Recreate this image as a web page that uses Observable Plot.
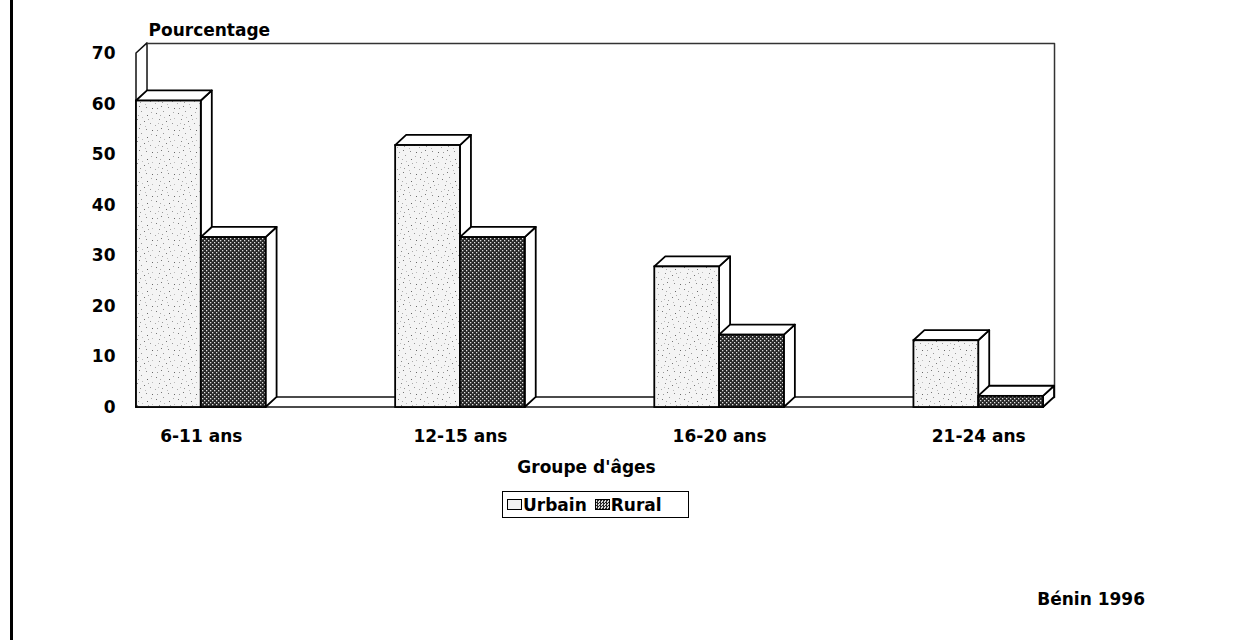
<!DOCTYPE html>
<html>
<head>
<meta charset="utf-8">
<script src="https://cdn.jsdelivr.net/npm/d3@7"></script>
<script src="https://cdn.jsdelivr.net/npm/@observablehq/plot@0.6"></script>
<style>
  html, body { margin: 0; padding: 0; background: #fff; }
  body { position: relative; width: 1246px; height: 640px; overflow: hidden;
         font-family: "DejaVu Sans", sans-serif; font-weight: bold; font-size: 17px; color: #000; }
  #border { position: absolute; left: 10px; top: 0; width: 3px; height: 640px; background: #000; }
  #chart { position: absolute; left: 0; top: 0; }
  #legend { position: absolute; left: 502px; top: 491px; width: 187px; height: 27px;
            border: 1.5px solid #000; box-sizing: border-box; display: flex; align-items: center;
            padding-left: 4px; gap: 0; }
  #legend .sw { display: inline-block; width: 15px; height: 11px; border: 1.3px solid #000; box-sizing: border-box; margin-right: 1px; }
  #legend .item { display: flex; align-items: center; margin-right: 8px; }
  #caption { position: absolute; right: 101px; top: 589px; }
</style>
</head>
<body>
<svg width="0" height="0" style="position:absolute">
  <defs>
    <pattern id="pUrb" width="22" height="22" patternUnits="userSpaceOnUse">
      <rect width="22" height="22" fill="#f4f4f4"/>
      <rect x="2" y="3" width="1" height="1" fill="#777"/>
      <rect x="9" y="1" width="1" height="1" fill="#999"/>
      <rect x="15" y="5" width="1" height="1" fill="#666"/>
      <rect x="19" y="2" width="1" height="1" fill="#aaa"/>
      <rect x="5" y="9" width="1" height="1" fill="#888"/>
      <rect x="12" y="11" width="1" height="1" fill="#777"/>
      <rect x="18" y="13" width="1" height="1" fill="#999"/>
      <rect x="1" y="15" width="1" height="1" fill="#aaa"/>
      <rect x="7" y="18" width="1" height="1" fill="#777"/>
      <rect x="14" y="19" width="1" height="1" fill="#888"/>
      <rect x="20" y="20" width="1" height="1" fill="#666"/>
      <rect x="10" y="7" width="1" height="1" fill="#bbb"/>
      <rect x="4" y="13" width="1" height="1" fill="#bbb"/>
      <rect x="16" y="9" width="1" height="1" fill="#aaa"/>
      <rect x="8" y="14" width="1" height="1" fill="#999"/>
      <rect x="13" y="16" width="1" height="1" fill="#bbb"/>
      <rect x="3" y="20" width="1" height="1" fill="#999"/>
      <rect x="20" y="8" width="1" height="1" fill="#bbb"/>
      <rect x="6" y="5" width="1" height="1" fill="#aaa"/>
    </pattern>
    <pattern id="pRur" width="4" height="4" patternUnits="userSpaceOnUse">
      <rect width="4" height="4" fill="#262626"/>
      <rect x="0" y="0" width="1.3" height="1.3" fill="#e0e0e0"/>
      <rect x="2" y="2" width="1.3" height="1.3" fill="#e0e0e0"/>
    </pattern>
  </defs>
</svg>
<div id="border"></div>
<div id="chart"></div>
<div id="legend">
  <span class="item"><span class="sw" style="background:#f2f2f2"></span><span id="l0"></span></span>
  <span class="item"><span class="sw" id="sw1"></span><span id="l1"></span></span>
</div>
<div id="caption"></div>
<script>
// ---- data ----
const groups = ["6-11 ans", "12-15 ans", "16-20 ans", "21-24 ans"];
const series = ["Urbain", "Rural"];
const urbain = [60.6, 51.8, 27.8, 13.2];
const rural = [33.6, 33.6, 14.3, 2.2];
const yTicks = [0, 10, 20, 30, 40, 50, 60, 70];
const yTitle = "Pourcentage";
const xTitle = "Groupe d'âges";
const caption = "Bénin 1996";

// ---- layout helpers ----
const values = [urbain, rural];
const step = series.length + 2;            // bars per group + gap
const xMax = groups.length * step - 2;
const yMax = d3.max(yTicks);
const DX = 0.17, DY = 2;                   // 3D depth in data units

const rows = groups.flatMap((g, i) => series.map((s, j) => ({
  id: i + "-" + j, g, s, x1: i * step + j, x2: i * step + j + 1, v: values[j][i]
})));
const topPts = rows.flatMap(r => [
  {id: r.id, y: r.v, xa: r.x1, xb: r.x2},
  {id: r.id, y: r.v + DY, xa: r.x1 + DX, xb: r.x2 + DX}
]);
const sidePts = rows.flatMap(r => [
  {id: r.id, x: r.x2, ya: 0, yb: r.v},
  {id: r.id, x: r.x2 + DX, ya: DY, yb: r.v + DY}
]);
const leftWall = [{x: 0, ya: 0, yb: yMax}, {x: DX, ya: DY, yb: yMax + DY}];
const floor = [{y: 0, xa: 0, xb: xMax}, {y: DY, xa: DX, xb: xMax + DX}];
const backWall = [{x: DX, y: yMax + DY}, {x: xMax + DX, y: yMax + DY}, {x: xMax + DX, y: DY}];
const fills = {Urbain: "url(#pUrb)", Rural: "url(#pRur)"};
const SW = 1.8;

const chart = Plot.plot({
  width: 1246,
  height: 490,
  marginTop: 53,
  marginBottom: 83,
  marginLeft: 136,
  marginRight: 203,
  style: {fontFamily: "DejaVu Sans", fontSize: "17px", fontWeight: "bold", background: "transparent", color: "#000"},
  x: {domain: [0, xMax]},
  y: {domain: [0, yMax]},
  marks: [
    Plot.area(leftWall, {x1: "x", y1: "ya", y2: "yb", fill: "white", stroke: "#111", strokeWidth: 1.5}),
    Plot.line(backWall, {x: "x", y: "y", stroke: "#333", strokeWidth: 1.5}),
    Plot.area(floor, {y1: "y", x1: "xa", x2: "xb", fill: "white", stroke: "#111", strokeWidth: 1.5}),
    Plot.area(sidePts, {x1: "x", y1: "ya", y2: "yb", z: "id", fill: "white", stroke: "#000", strokeWidth: SW, strokeLinejoin: "round"}),
    Plot.area(topPts, {y1: "y", x1: "xa", x2: "xb", z: "id", fill: "white", stroke: "#000", strokeWidth: SW, strokeLinejoin: "round"}),
    ...series.map(s => Plot.rect(rows.filter(r => r.s === s), {
      x1: "x1", x2: "x2", y1: () => 0, y2: "v", fill: fills[s], stroke: "#000", strokeWidth: SW
    })),
    Plot.axisY({ticks: yTicks, tickSize: 0, tickPadding: 21, label: null}),
    Plot.axisX({ticks: groups.map((g, i) => i * step + 1), tickFormat: d => groups[Math.round((d - 1) / step)], tickSize: 0, tickPadding: 22, label: null}),
    Plot.text([yTitle], {frameAnchor: "top-left", text: d => d, textAnchor: "start", dx: 12, dy: -29.5}),
    Plot.text([xTitle], {frameAnchor: "bottom", text: d => d, dx: -3.5, dy: 65})
  ]
});
document.getElementById("chart").appendChild(chart);
document.getElementById("l0").textContent = series[0];
document.getElementById("l1").textContent = series[1];
document.getElementById("sw1").style.background = "repeating-conic-gradient(#262626 0 25%, #d8d8d8 0 50%) 0 0 / 3px 3px";
document.getElementById("caption").textContent = caption;
</script>
</body>
</html>
